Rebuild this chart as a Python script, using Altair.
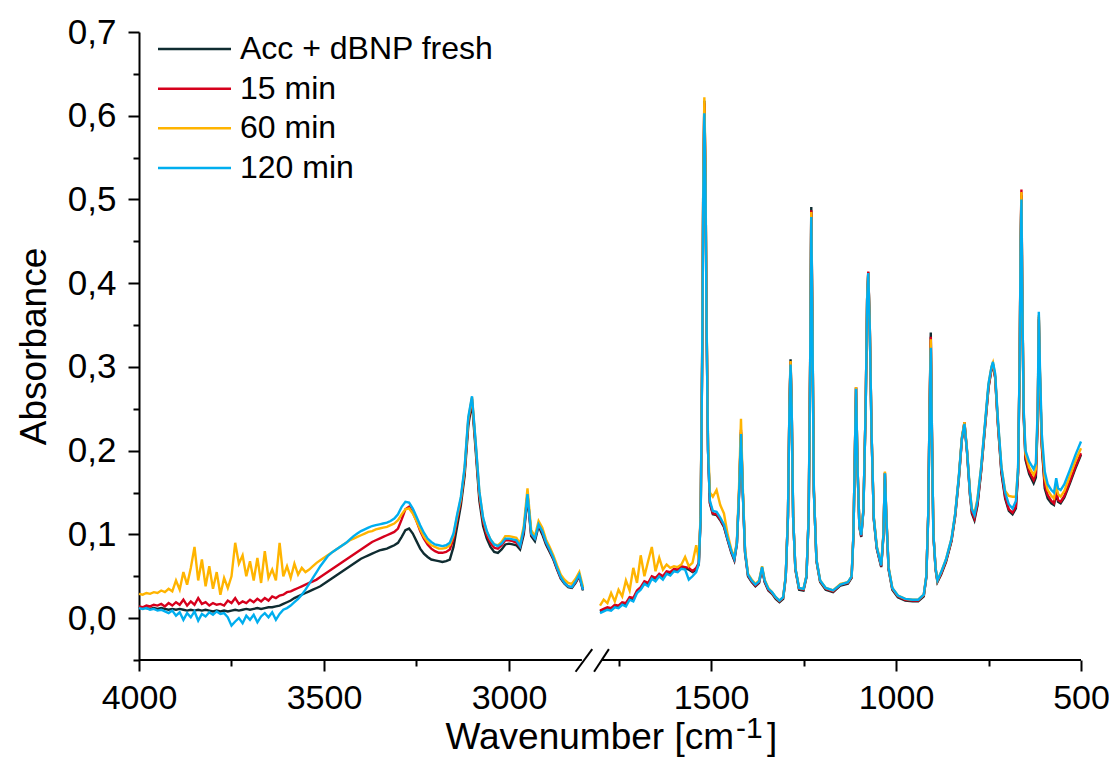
import altair as alt
import pandas as pd

SERIES = ["Acc + dBNP fresh", "15 min", "60 min", "120 min"]
COLORS = ["#0f2c31", "#d6001c", "#ffb400", "#00aeef"]

# ---- wavenumber grids (cm-1) ----
LEFT_WN = list(range(4000, 2799, -10))          # 4000 ... 2800
RIGHT_WN = list(range(1800, 1539, -10)) + [
    1533, 1528, 1524, 1521, 1518, 1515, 1512, 1508, 1503, 1495,
    1485, 1475, 1465, 1455, 1445, 1437, 1430, 1424, 1419, 1414,
    1408, 1400, 1390, 1380, 1370, 1362, 1355, 1345, 1335, 1325,
    1315, 1305, 1298, 1292, 1288, 1285, 1282, 1278, 1272, 1262,
    1250, 1242, 1236, 1232, 1229, 1226, 1222, 1215, 1205, 1190,
    1170, 1150, 1130, 1120, 1115, 1111, 1108, 1104, 1099, 1094,
    1088, 1082, 1078, 1075, 1071, 1066, 1060, 1052, 1045, 1040,
    1034, 1030, 1026, 1020, 1010, 995, 975, 955, 940, 925,
    918, 913, 909, 906, 903, 899, 893, 888, 878, 865,
    850, 840, 830, 822, 815, 808, 800, 795, 788, 780,
    770, 760, 750, 742, 738, 732, 725, 715, 705, 695,
    685, 676, 670, 666, 663, 661, 659, 655, 650, 640,
    628, 622, 617, 614, 611, 606, 598, 590, 580, 573,
    567, 562, 555, 545, 530, 515, 500,
]

# ---- absorbance, high-wavenumber part (4000-2800) ----
black_left = [
    0.012, 0.013, 0.012, 0.011, 0.012, 0.011, 0.012, 0.011, 0.010, 0.011,
    0.010, 0.011, 0.010, 0.009, 0.010, 0.009, 0.010, 0.009, 0.010, 0.009,
    0.008, 0.009, 0.008, 0.009, 0.008, 0.009, 0.010, 0.009, 0.010, 0.011,
    0.010, 0.011, 0.012, 0.011, 0.012, 0.013, 0.013, 0.014, 0.015, 0.017,
    0.019, 0.021, 0.024, 0.026, 0.028, 0.030, 0.032, 0.034, 0.036, 0.038,
    0.041, 0.044, 0.047, 0.050, 0.053, 0.056, 0.059, 0.062, 0.065, 0.068,
    0.071, 0.073, 0.075, 0.077, 0.079, 0.081, 0.082, 0.083, 0.085, 0.087,
    0.090, 0.097, 0.105, 0.107, 0.101, 0.092, 0.083, 0.077, 0.073, 0.070,
    0.069, 0.068, 0.067, 0.068, 0.070, 0.085, 0.110, 0.135, 0.170, 0.230,
    0.258, 0.200, 0.140, 0.110, 0.095, 0.085, 0.079, 0.078, 0.082, 0.088,
    0.089, 0.088, 0.087, 0.082, 0.100, 0.145, 0.098, 0.092, 0.110, 0.100,
    0.088, 0.079, 0.070, 0.058, 0.047, 0.041, 0.037, 0.036, 0.042, 0.050,
    0.033,
]
red_left = [
    0.014, 0.013, 0.015, 0.014, 0.016, 0.015, 0.017, 0.014, 0.018, 0.015,
    0.019, 0.016, 0.022, 0.015, 0.020, 0.016, 0.024, 0.017, 0.019, 0.015,
    0.018, 0.016, 0.017, 0.015, 0.021, 0.018, 0.024, 0.017, 0.020, 0.018,
    0.022, 0.019, 0.023, 0.020, 0.024, 0.021, 0.026, 0.024, 0.027, 0.028,
    0.031, 0.032, 0.034, 0.036, 0.038, 0.040, 0.042, 0.044, 0.046, 0.049,
    0.052, 0.055, 0.058, 0.061, 0.064, 0.067, 0.070, 0.073, 0.076, 0.079,
    0.082, 0.085, 0.088, 0.091, 0.093, 0.095, 0.097, 0.099, 0.101, 0.103,
    0.107, 0.118, 0.130, 0.133, 0.126, 0.116, 0.104, 0.095, 0.088, 0.083,
    0.080, 0.078, 0.078, 0.079, 0.082, 0.095, 0.118, 0.140, 0.175, 0.235,
    0.262, 0.205, 0.145, 0.115, 0.099, 0.090, 0.084, 0.083, 0.087, 0.093,
    0.093, 0.092, 0.090, 0.085, 0.104, 0.148, 0.100, 0.095, 0.112, 0.103,
    0.090, 0.081, 0.071, 0.059, 0.048, 0.042, 0.038, 0.037, 0.043, 0.051,
    0.034,
]
yellow_left = [
    0.029, 0.028, 0.030, 0.029, 0.031, 0.030, 0.033, 0.031, 0.035, 0.032,
    0.045, 0.034, 0.055, 0.040, 0.060, 0.085, 0.045, 0.070, 0.038, 0.062,
    0.035, 0.055, 0.028, 0.048, 0.036, 0.050, 0.090, 0.065, 0.075, 0.050,
    0.068, 0.045, 0.072, 0.042, 0.080, 0.048, 0.058, 0.045, 0.090, 0.050,
    0.062, 0.048, 0.065, 0.052, 0.060, 0.055, 0.058, 0.062, 0.066, 0.069,
    0.072, 0.075, 0.078, 0.081, 0.084, 0.087, 0.090, 0.093, 0.095, 0.097,
    0.099, 0.101, 0.103, 0.104, 0.106, 0.107, 0.108, 0.109, 0.111, 0.113,
    0.117, 0.124, 0.130, 0.131, 0.125, 0.116, 0.106, 0.097, 0.091, 0.087,
    0.085, 0.083, 0.083, 0.084, 0.087, 0.099, 0.122, 0.143, 0.178, 0.238,
    0.264, 0.208, 0.150, 0.119, 0.103, 0.094, 0.088, 0.087, 0.091, 0.098,
    0.098, 0.097, 0.096, 0.089, 0.110, 0.155, 0.105, 0.098, 0.116, 0.108,
    0.094, 0.085, 0.075, 0.063, 0.052, 0.046, 0.042, 0.041, 0.047, 0.055,
    0.037,
]
blue_left = [
    0.012, 0.011, 0.012, 0.010, 0.011, 0.009, 0.010, 0.008, 0.006, 0.009,
    0.003, 0.007, -0.002, 0.006, 0.001, 0.008, -0.003, 0.005, 0.002, 0.007,
    0.004, 0.008, 0.005, 0.006, 0.001, -0.009, -0.004, 0.000, -0.006, 0.003,
    -0.002, 0.004, -0.005, 0.002, 0.006, 0.001, 0.007, -0.002, 0.005, 0.010,
    0.012, 0.015, 0.019, 0.023, 0.028, 0.034, 0.041, 0.048, 0.055, 0.062,
    0.068, 0.074, 0.078, 0.081, 0.084, 0.087, 0.090, 0.094, 0.098, 0.101,
    0.104, 0.106, 0.108, 0.110, 0.111, 0.112, 0.113, 0.114, 0.116, 0.119,
    0.124, 0.133, 0.139, 0.138, 0.131, 0.121, 0.111, 0.102, 0.095, 0.091,
    0.088, 0.087, 0.086, 0.087, 0.090, 0.101, 0.124, 0.145, 0.180, 0.240,
    0.265, 0.210, 0.151, 0.120, 0.104, 0.094, 0.088, 0.086, 0.089, 0.095,
    0.095, 0.094, 0.093, 0.086, 0.106, 0.148, 0.101, 0.095, 0.112, 0.104,
    0.091, 0.082, 0.072, 0.060, 0.049, 0.042, 0.038, 0.037, 0.044, 0.052,
    0.034,
]

# ---- absorbance, fingerprint part (1800-500) ----
black_right = [
    0.008, 0.010, 0.011, 0.011, 0.014, 0.014, 0.017, 0.017, 0.023, 0.023,
    0.031, 0.035, 0.042, 0.041, 0.048, 0.047, 0.051, 0.049, 0.054, 0.054,
    0.057, 0.057, 0.060, 0.060, 0.058, 0.055, 0.058,
    0.064, 0.120, 0.305, 0.515, 0.618, 0.530, 0.355, 0.200, 0.137, 0.124,
    0.123, 0.117, 0.109, 0.093, 0.078, 0.069, 0.089, 0.150, 0.222, 0.149,
    0.078, 0.050, 0.043, 0.038, 0.042, 0.059, 0.043, 0.033, 0.029, 0.023,
    0.019, 0.023, 0.049, 0.123, 0.255, 0.309, 0.254, 0.121, 0.058, 0.034,
    0.033, 0.049, 0.123, 0.308, 0.491, 0.358, 0.153, 0.068, 0.043, 0.034,
    0.031, 0.039, 0.041, 0.048, 0.099, 0.201, 0.275, 0.180, 0.109, 0.097,
    0.129, 0.251, 0.381, 0.413, 0.351, 0.219, 0.118, 0.083, 0.070, 0.061,
    0.098, 0.173, 0.118, 0.058, 0.034, 0.025, 0.021, 0.020, 0.020, 0.026,
    0.049, 0.123, 0.258, 0.341, 0.228, 0.100, 0.058, 0.043, 0.052, 0.067,
    0.092, 0.122, 0.167, 0.213, 0.233, 0.198, 0.147, 0.125, 0.117, 0.134,
    0.175, 0.225, 0.275, 0.297, 0.303, 0.287, 0.234, 0.173, 0.143, 0.128,
    0.124, 0.131, 0.173, 0.297, 0.450, 0.505, 0.400, 0.242, 0.189, 0.172,
    0.161, 0.168, 0.236, 0.357, 0.287, 0.205, 0.155, 0.143, 0.137, 0.135,
    0.150, 0.139, 0.137, 0.144, 0.161, 0.179, 0.195,
]
red_right = [
    0.009, 0.011, 0.013, 0.012, 0.016, 0.015, 0.019, 0.018, 0.025, 0.024,
    0.033, 0.037, 0.044, 0.042, 0.050, 0.048, 0.053, 0.050, 0.056, 0.055,
    0.059, 0.058, 0.062, 0.061, 0.060, 0.056, 0.060,
    0.066, 0.122, 0.305, 0.510, 0.615, 0.530, 0.355, 0.200, 0.138, 0.125,
    0.124, 0.118, 0.110, 0.094, 0.079, 0.070, 0.090, 0.152, 0.225, 0.150,
    0.079, 0.051, 0.044, 0.039, 0.043, 0.060, 0.044, 0.034, 0.030, 0.024,
    0.020, 0.024, 0.050, 0.122, 0.253, 0.306, 0.252, 0.120, 0.059, 0.035,
    0.034, 0.050, 0.122, 0.305, 0.487, 0.355, 0.152, 0.069, 0.044, 0.035,
    0.032, 0.040, 0.042, 0.049, 0.100, 0.202, 0.276, 0.181, 0.110, 0.098,
    0.130, 0.252, 0.382, 0.414, 0.352, 0.220, 0.119, 0.084, 0.071, 0.062,
    0.099, 0.174, 0.119, 0.059, 0.035, 0.026, 0.022, 0.021, 0.021, 0.027,
    0.050, 0.122, 0.255, 0.336, 0.225, 0.100, 0.059, 0.044, 0.053, 0.068,
    0.093, 0.123, 0.168, 0.214, 0.234, 0.199, 0.148, 0.127, 0.119, 0.136,
    0.176, 0.226, 0.276, 0.298, 0.303, 0.288, 0.235, 0.175, 0.145, 0.130,
    0.126, 0.133, 0.175, 0.300, 0.455, 0.512, 0.405, 0.245, 0.192, 0.175,
    0.165, 0.172, 0.240, 0.360, 0.290, 0.208, 0.159, 0.147, 0.140, 0.137,
    0.152, 0.141, 0.139, 0.146, 0.163, 0.181, 0.197,
]
yellow_right = [
    0.015, 0.022, 0.018, 0.030, 0.020, 0.034, 0.026, 0.045, 0.033, 0.060,
    0.042, 0.075, 0.050, 0.068, 0.085, 0.056, 0.072, 0.058, 0.064, 0.060,
    0.062, 0.061, 0.064, 0.073, 0.062, 0.066, 0.087,
    0.070, 0.125, 0.310, 0.520, 0.622, 0.540, 0.360, 0.210, 0.150, 0.145,
    0.153, 0.135, 0.125, 0.100, 0.082, 0.073, 0.092, 0.160, 0.238, 0.155,
    0.082, 0.053, 0.046, 0.041, 0.045, 0.062, 0.046, 0.036, 0.031, 0.025,
    0.021, 0.025, 0.051, 0.122, 0.253, 0.307, 0.252, 0.121, 0.060, 0.036,
    0.035, 0.051, 0.122, 0.304, 0.485, 0.353, 0.152, 0.070, 0.045, 0.036,
    0.033, 0.041, 0.043, 0.050, 0.101, 0.202, 0.276, 0.181, 0.111, 0.100,
    0.131, 0.251, 0.381, 0.412, 0.351, 0.221, 0.121, 0.086, 0.073, 0.064,
    0.101, 0.175, 0.121, 0.061, 0.036, 0.027, 0.023, 0.022, 0.022, 0.028,
    0.051, 0.121, 0.253, 0.333, 0.223, 0.101, 0.060, 0.045, 0.055, 0.070,
    0.095, 0.125, 0.170, 0.216, 0.234, 0.201, 0.151, 0.131, 0.125, 0.142,
    0.180, 0.229, 0.279, 0.300, 0.305, 0.290, 0.238, 0.180, 0.152, 0.146,
    0.145, 0.145, 0.178, 0.298, 0.452, 0.509, 0.402, 0.248, 0.196, 0.180,
    0.171, 0.178, 0.244, 0.362, 0.294, 0.213, 0.167, 0.153, 0.146, 0.143,
    0.159, 0.148, 0.145, 0.152, 0.170, 0.188, 0.203,
]
blue_right = [
    0.006, 0.008, 0.010, 0.009, 0.013, 0.012, 0.016, 0.014, 0.022, 0.020,
    0.030, 0.034, 0.041, 0.038, 0.047, 0.044, 0.050, 0.046, 0.053, 0.051,
    0.056, 0.055, 0.059, 0.058, 0.046, 0.050, 0.055,
    0.065, 0.120, 0.300, 0.500, 0.603, 0.520, 0.350, 0.200, 0.140, 0.128,
    0.127, 0.120, 0.112, 0.095, 0.080, 0.071, 0.090, 0.150, 0.220, 0.150,
    0.080, 0.052, 0.045, 0.040, 0.044, 0.061, 0.045, 0.035, 0.031, 0.025,
    0.021, 0.025, 0.050, 0.120, 0.250, 0.303, 0.250, 0.120, 0.060, 0.036,
    0.035, 0.050, 0.120, 0.300, 0.479, 0.350, 0.150, 0.070, 0.045, 0.036,
    0.033, 0.040, 0.043, 0.050, 0.100, 0.200, 0.274, 0.180, 0.110, 0.099,
    0.130, 0.250, 0.380, 0.412, 0.350, 0.220, 0.120, 0.085, 0.072, 0.063,
    0.100, 0.173, 0.120, 0.060, 0.036, 0.027, 0.023, 0.022, 0.022, 0.028,
    0.050, 0.120, 0.250, 0.323, 0.220, 0.100, 0.060, 0.045, 0.055, 0.070,
    0.095, 0.125, 0.170, 0.215, 0.232, 0.200, 0.150, 0.130, 0.123, 0.140,
    0.180, 0.230, 0.280, 0.300, 0.306, 0.292, 0.240, 0.180, 0.150, 0.136,
    0.131, 0.140, 0.180, 0.300, 0.450, 0.500, 0.400, 0.250, 0.200, 0.187,
    0.178, 0.185, 0.250, 0.366, 0.300, 0.220, 0.175, 0.160, 0.153, 0.150,
    0.167, 0.155, 0.153, 0.160, 0.177, 0.195, 0.211,
]

# axis tick labels (cm-1) and absorbance ticks
X_TICKS_WN = [4000, 3750, 3500, 3250, 3000, 1750, 1500, 1250, 1000, 750, 500]
X_MAJOR_WN = [4000, 3500, 3000, 1500, 1000, 500]
Y_TICKS = [round(-0.05 + 0.05 * i, 2) for i in range(16)]
X_TITLE = ["Wavenumber [cm", "-1", "]"]

LEFTS = [black_left, red_left, yellow_left, blue_left]
RIGHTS = [black_right, red_right, yellow_right, blue_right]

rows = []
for name, lv, rv in zip(SERIES, LEFTS, RIGHTS):
    assert len(lv) == len(LEFT_WN), (name, len(lv))
    assert len(rv) == len(RIGHT_WN), (name, len(rv))
    for w, a in zip(LEFT_WN, lv):
        rows.append({"series": name, "seg": "high", "wn": w, "a": a})
    for w, a in zip(RIGHT_WN, rv):
        rows.append({"series": name, "seg": "low", "wn": w, "a": a})
df = pd.DataFrame(rows)

# broken axis: 4000-2800 and 1800-500 on one position scale
GAP = 46
def pos(w):
    return 4000 - w if w >= 2800 else 1200 + GAP + (1800 - w)

P_EXPR = f"datum.wn >= 2800 ? 4000 - datum.wn : {1200 + GAP + 1800} - datum.wn"
X_MAX = pos(500)
W, H = 942, 628
FONT = "Liberation Sans"

x_scale = alt.Scale(domain=[0, X_MAX], nice=False, zero=False)
y_scale = alt.Scale(domain=[-0.05, 0.7], nice=False, zero=False)

major_p = [pos(w) for w in X_MAJOR_WN]
x_test = f"indexof({major_p}, datum.value) >= 0"
x_label = (f"{x_test} ? format(datum.value <= 1200 ? 4000 - datum.value : "
           f"{1200 + GAP + 1800} - datum.value, 'd') : ''")
y_test = "abs(datum.value * 10 - round(datum.value * 10)) < 0.001"
y_label = f"{y_test} ? replace(format(datum.value, '.1f'), '.', ',') : ''"

x_axis = alt.Axis(
    values=[pos(w) for w in X_TICKS_WN], labelExpr=x_label,
    tickSize={"condition": {"test": x_test, "value": 11}, "value": 6},
    domain=False, grid=False, labelFlush=False, labelOverlap=False,
    labelFontSize=34, labelPadding=10, title=None,
)
y_axis = alt.Axis(
    values=Y_TICKS, labelExpr=y_label,
    tickSize={"condition": {"test": y_test, "value": 11}, "value": 6},
    grid=False, labelFlush=False, labelOverlap=False,
    labelFontSize=35, labelPadding=12,
    title="Absorbance", titleFontSize=37, titleAngle=270,
    titleX=-94, titleY=H / 2, titleBaseline="alphabetic", titleAlign="center",
)

lines = []
for name, col in zip(SERIES, COLORS):
    lines.append(
        alt.Chart(df[df.series == name])
        .transform_calculate(p=P_EXPR)
        .mark_line(color=col, strokeWidth=2.4)
        .encode(
            x=alt.X("p:Q", scale=x_scale, axis=x_axis),
            y=alt.Y("a:Q", scale=y_scale, axis=y_axis),
            detail="seg:N",
        )
    )

# x axis line in two pieces plus the break marks
axis_df = pd.DataFrame({"p0": [0, 1251], "p1": [1197, X_MAX], "yv": [-0.05, -0.05]})
axis_line = alt.Chart(axis_df).mark_rule(color="black", strokeWidth=2).encode(
    x=alt.X("p0:Q", scale=x_scale, axis=x_axis), x2="p1:Q",
    y=alt.Y("yv:Q", scale=y_scale, axis=y_axis),
)
brk_df = pd.DataFrame({"p0": [1180, 1230], "p1": [1225, 1270],
                       "y0": [-0.064, -0.064], "y1": [-0.037, -0.037]})
breaks = alt.Chart(brk_df).mark_rule(color="black", strokeWidth=2).encode(
    x=alt.X("p0:Q", scale=x_scale, axis=x_axis), x2="p1:Q",
    y=alt.Y("y0:Q", scale=y_scale, axis=y_axis), y2="y1:Q",
)

main = alt.layer(*lines, axis_line, breaks)

# x axis title with a real superscript
TITLE_BASE = H + 89
title_df = pd.DataFrame({"t": X_TITLE})
t_main = alt.Chart(title_df.iloc[[0]]).mark_text(
    align="right", baseline="alphabetic", fontSize=37, font=FONT, color="black"
).encode(x=alt.value(W / 2 + 124), y=alt.value(TITLE_BASE), text="t:N")
t_sup = alt.Chart(title_df.iloc[[1]]).mark_text(
    align="left", baseline="alphabetic", fontSize=30, font=FONT, color="black"
).encode(x=alt.value(W / 2 + 126), y=alt.value(TITLE_BASE - 11), text="t:N")
t_end = alt.Chart(title_df.iloc[[2]]).mark_text(
    align="left", baseline="alphabetic", fontSize=37, font=FONT, color="black"
).encode(x=alt.value(W / 2 + 157), y=alt.value(TITLE_BASE), text="t:N")

# legend (drawn as marks)
leg_df = pd.DataFrame({"series": SERIES})
leg_y = alt.Y("series:N", axis=None,
              scale=alt.Scale(type="point", domain=SERIES, range=[17, 136], padding=0))
leg_rule = alt.Chart(leg_df).mark_rule(strokeWidth=2.5).encode(
    x=alt.value(19), x2=alt.value(92), y=leg_y,
    color=alt.Color("series:N", scale=alt.Scale(domain=SERIES, range=COLORS), legend=None),
)
leg_text = alt.Chart(leg_df).mark_text(
    align="left", baseline="middle", fontSize=32, font=FONT, color="black"
).encode(x=alt.value(101), y=leg_y, text="series:N")
legend = alt.layer(leg_rule, leg_text, t_main, t_sup, t_end)

chart = (
    alt.layer(main, legend)
    .resolve_scale(y="independent")
    .properties(
        width=W, height=H,
        padding={"left": 131, "top": 24, "right": 28, "bottom": 98},
        autosize=alt.AutoSizeParams(type="none"),
    )
    .configure_view(stroke=None)
    .configure_axis(
        labelFont=FONT, titleFont=FONT,
        labelColor="black", titleColor="black", domainColor="black",
        tickColor="black", domainWidth=2, tickWidth=2, titleFontWeight="normal",
    )
)

chart.save("out.html", embed_options={"renderer": "svg", "actions": False})
